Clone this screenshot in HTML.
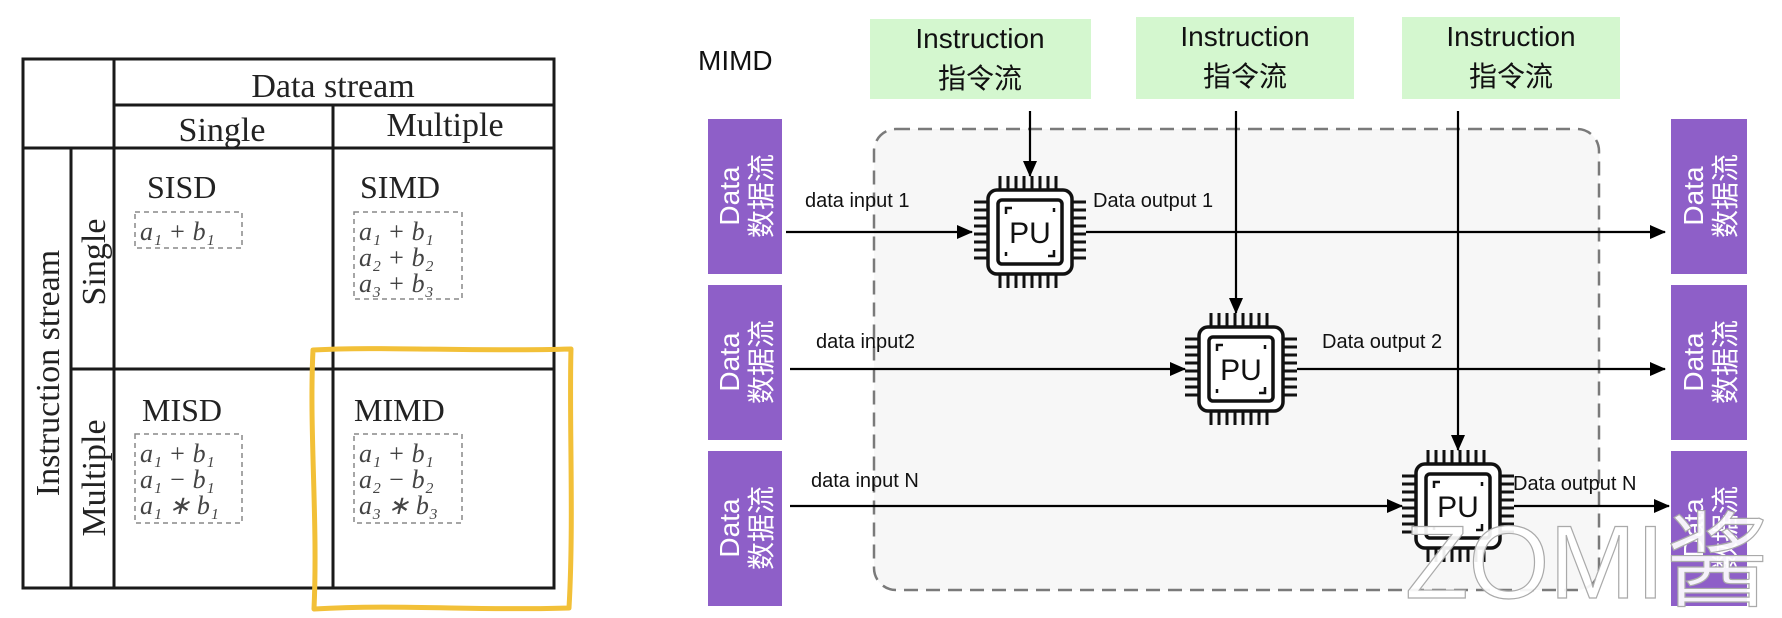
<!DOCTYPE html>
<html><head><meta charset="utf-8"><style>
html,body{margin:0;padding:0;background:#fff;width:1782px;height:618px;overflow:hidden}
svg{display:block}
.serif{font-family:"Liberation Serif","DejaVu Serif",serif;fill:#222}
.math{font-family:"Liberation Serif",serif;font-style:italic;fill:#444}
.sans{font-family:"Liberation Sans","Noto Sans CJK SC",sans-serif}
</style></head><body>
<svg width="1782" height="618" viewBox="0 0 1782 618" xmlns="http://www.w3.org/2000/svg">
<defs>
<marker id="ah" markerWidth="16" markerHeight="14" refX="15" refY="7" orient="auto" markerUnits="userSpaceOnUse" viewBox="0 0 16 14">
<path d="M0,0 L16,7 L0,14 z" fill="#000"/></marker>
<g id="chip">
 <g stroke="#111" stroke-width="3">
  <path d="M-30,-56V-40M-22,-56V-40M-14,-56V-40M-6,-56V-40M2,-56V-40M10,-56V-40M18,-56V-40M26,-56V-40"/>
  <path d="M-30,56V40M-22,56V40M-14,56V40M-6,56V40M2,56V40M10,56V40M18,56V40M26,56V40"/>
  <path d="M-56,-30H-40M-56,-22H-40M-56,-14H-40M-56,-6H-40M-56,2H-40M-56,10H-40M-56,18H-40M-56,26H-40"/>
  <path d="M56,-30H40M56,-22H40M56,-14H40M56,-6H40M56,2H40M56,10H40M56,18H40M56,26H40"/>
 </g>
 <rect x="-42" y="-42" width="84" height="84" rx="9" fill="#fff" stroke="#111" stroke-width="3.5"/>
 <rect x="-32" y="-32" width="64" height="64" rx="4" fill="none" stroke="#111" stroke-width="3.5"/>
 <path d="M-24,-18V-24H-18M24,18V24H18M-24,20V24M24,-20V-24" stroke="#111" stroke-width="2.5" fill="none"/>
 <text x="0" y="11" text-anchor="middle" class="sans" font-size="30" fill="#111">PU</text>
</g>
</defs>

<!-- Left table -->
<g stroke="#1a1a1a" stroke-width="3" fill="none">
 <rect x="23" y="59" width="531" height="529"/>
 <line x1="114" y1="59" x2="114" y2="588"/>
 <line x1="71" y1="148" x2="71" y2="588"/>
 <line x1="333" y1="105" x2="333" y2="588"/>
 <line x1="114" y1="105" x2="554" y2="105"/>
 <line x1="23" y1="148" x2="554" y2="148"/>
 <line x1="71" y1="369" x2="554" y2="369"/>
</g>
<text x="333" y="97" text-anchor="middle" class="serif" font-size="34">Data stream</text>
<text x="222" y="141" text-anchor="middle" class="serif" font-size="34">Single</text>
<text x="445" y="136" text-anchor="middle" class="serif" font-size="34">Multiple</text>
<text transform="translate(59,373) rotate(-90)" text-anchor="middle" class="serif" font-size="34">Instruction stream</text>
<text transform="translate(105,262) rotate(-90)" text-anchor="middle" class="serif" font-size="34">Single</text>
<text transform="translate(105,478) rotate(-90)" text-anchor="middle" class="serif" font-size="34">Multiple</text>

<text x="147" y="198" class="serif" font-size="32">SISD</text>
<text x="360" y="198" class="serif" font-size="32">SIMD</text>
<text x="142" y="421" class="serif" font-size="32">MISD</text>
<text x="354" y="421" class="serif" font-size="32">MIMD</text>

<g stroke="#888" stroke-width="1.5" stroke-dasharray="5,4" fill="none">
 <rect x="135" y="212" width="107" height="36"/>
 <rect x="354" y="212" width="108" height="87"/>
 <rect x="135" y="434" width="107" height="89"/>
 <rect x="354" y="434" width="108" height="89"/>
</g>
<g class="math" font-size="26">
 <text x="140" y="240">a₁ + b₁</text>
 <text x="359" y="240">a₁ + b₁</text>
 <text x="359" y="266">a₂ + b₂</text>
 <text x="359" y="292">a₃ + b₃</text>
 <text x="140" y="462">a₁ + b₁</text>
 <text x="140" y="488">a₁ − b₁</text>
 <text x="140" y="514">a₁ ∗ b₁</text>
 <text x="359" y="462">a₁ + b₁</text>
 <text x="359" y="488">a₂ − b₂</text>
 <text x="359" y="514">a₃ ∗ b₃</text>
</g>
<!-- yellow highlight -->
<path d="M313,350 C380,346 470,352 571,349 C569,420 574,520 569,608 C480,611 400,604 314,609 C318,520 309,430 313,350 Z" fill="none" stroke="#f2c038" stroke-width="5" stroke-linejoin="round"/>

<!-- Right diagram -->
<text x="698" y="70" class="sans" font-size="28" fill="#111">MIMD</text>
<rect x="874" y="129" width="725" height="461" rx="22" fill="#f7f7f7" stroke="#7a7a7a" stroke-width="2.5" stroke-dasharray="14,8"/>

<g fill="#d4f7cf">
 <rect x="870" y="19" width="221" height="80"/>
 <rect x="1136" y="17" width="218" height="82"/>
 <rect x="1402" y="17" width="218" height="82"/>
</g>
<g class="sans" font-size="28" fill="#111" text-anchor="middle">
 <text x="980" y="48">Instruction</text><text x="980" y="88">指令流</text>
 <text x="1245" y="46">Instruction</text><text x="1245" y="86">指令流</text>
 <text x="1511" y="46">Instruction</text><text x="1511" y="86">指令流</text>
</g>

<g fill="#8e5fc8">
 <rect x="708" y="119" width="74" height="155"/>
 <rect x="708" y="285" width="74" height="155"/>
 <rect x="708" y="451" width="74" height="155"/>
 <rect x="1671" y="119" width="76" height="155"/>
 <rect x="1671" y="285" width="76" height="155"/>
 <rect x="1671" y="451" width="76" height="155"/>
</g>
<g class="sans" font-size="28" fill="#fff" text-anchor="middle">
 <text transform="translate(745,196) rotate(-90)"><tspan x="0" y="-6">Data</tspan><tspan x="0" y="26">数据流</tspan></text>
 <text transform="translate(745,362) rotate(-90)"><tspan x="0" y="-6">Data</tspan><tspan x="0" y="26">数据流</tspan></text>
 <text transform="translate(745,528) rotate(-90)"><tspan x="0" y="-6">Data</tspan><tspan x="0" y="26">数据流</tspan></text>
 <text transform="translate(1709,196) rotate(-90)"><tspan x="0" y="-6">Data</tspan><tspan x="0" y="26">数据流</tspan></text>
 <text transform="translate(1709,362) rotate(-90)"><tspan x="0" y="-6">Data</tspan><tspan x="0" y="26">数据流</tspan></text>
 <text transform="translate(1709,528) rotate(-90)"><tspan x="0" y="-6">Data</tspan><tspan x="0" y="26">数据流</tspan></text>
</g>

<g stroke="#000" stroke-width="2.2" fill="none" marker-end="url(#ah)">
 <line x1="786" y1="232" x2="972" y2="232"/>
 <line x1="1086" y1="232" x2="1665" y2="232"/>
 <line x1="790" y1="369" x2="1185" y2="369"/>
 <line x1="1297" y1="369" x2="1665" y2="369"/>
 <line x1="790" y1="506" x2="1402" y2="506"/>
 <line x1="1514" y1="506" x2="1669" y2="506"/>
 <line x1="1030" y1="111" x2="1030" y2="176"/>
 <line x1="1236" y1="111" x2="1236" y2="313"/>
 <line x1="1458" y1="111" x2="1458" y2="450"/>
</g>

<use href="#chip" x="1030" y="232"/>
<use href="#chip" x="1241" y="369"/>
<use href="#chip" x="1458" y="506"/>

<g class="sans" font-size="20" fill="#111">
 <text x="805" y="207">data input 1</text>
 <text x="1093" y="207">Data output  1</text>
 <text x="816" y="348">data input2</text>
 <text x="1322" y="348">Data output 2</text>
 <text x="811" y="487">data input N</text>
 <text x="1513" y="490">Data output N</text>
</g>

<text x="1405" y="598" class="sans" font-size="104" fill="#fff" fill-opacity="0.92" stroke="#aaa" stroke-width="1.2">ZOMI酱</text>
</svg>
</body></html>
